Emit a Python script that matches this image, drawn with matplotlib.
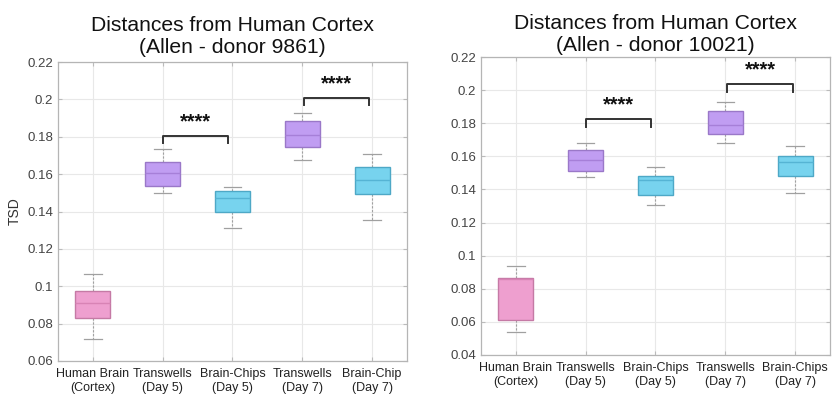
import matplotlib.pyplot as plt

plt.rcParams['font.family'] = ['Liberation Sans', 'DejaVu Sans']

# box stats: whisker low, q1, median, q3, whisker high
left_whislo = [0.072, 0.1497, 0.1314, 0.1676, 0.1355]
left_q1 = [0.0831, 0.1534, 0.1397, 0.1745, 0.1495]
left_med = [0.0910, 0.1604, 0.1471, 0.1808, 0.1570]
left_q3 = [0.0973, 0.1665, 0.1510, 0.1884, 0.1637]
left_whishi = [0.1067, 0.1734, 0.1531, 0.1925, 0.1708]

right_whislo = [0.0540, 0.1475, 0.1306, 0.1678, 0.1376]
right_q1 = [0.0612, 0.1510, 0.1368, 0.1732, 0.1482]
right_med = [0.0859, 0.1580, 0.1456, 0.1788, 0.1564]
right_q3 = [0.0865, 0.1636, 0.1480, 0.1872, 0.1600]
right_whishi = [0.0936, 0.1682, 0.1534, 0.1928, 0.1660]

left_labels = ['Human Brain\n(Cortex)', 'Transwells\n(Day 5)', 'Brain-Chips\n(Day 5)',
               'Transwells\n(Day 7)', 'Brain-Chip\n(Day 7)']
right_labels = ['Human Brain\n(Cortex)', 'Transwells\n(Day 5)', 'Brain-Chips\n(Day 5)',
                'Transwells\n(Day 7)', 'Brain-Chips\n(Day 7)']

left_titles = 'Distances from Human Cortex\n(Allen - donor 9861)'
right_titles = 'Distances from Human Cortex\n(Allen - donor 10021)'

# significance brackets: (x start, x end, top, end drop, star y)
left_brackets = [(2, 2.93, 0.1802, 0.1765, 0.1880), (4.02, 4.95, 0.2007, 0.1968, 0.2084)]
right_brackets = [(2, 2.93, 0.1826, 0.1778, 0.1912), (4.03, 4.97, 0.2038, 0.1990, 0.2122)]

fills = ['#ee9fcf', '#c09df2', '#77d3ee', '#c09df2', '#77d3ee']
edges = ['#c57aa5', '#9a78c8', '#4ea8c6', '#9a78c8', '#4ea8c6']
medcols = ['#d883b5', '#a67fd8', '#55b4d4', '#a67fd8', '#55b4d4']

fig = plt.figure(figsize=(8.34, 3.97), dpi=100)
ax1 = fig.add_axes([0.0695, 0.0907, 0.4185, 0.753])
ax2 = fig.add_axes([0.5767, 0.1058, 0.4185, 0.7506])


def draw_panel(ax, wlo, q1, med, q3, whi, labels, title, brackets, ylim, yticks, tpad):
    stats = []
    for i in range(len(med)):
        stats.append({'whislo': wlo[i], 'q1': q1[i], 'med': med[i], 'q3': q3[i],
                      'whishi': whi[i], 'fliers': []})
    bp = ax.bxp(stats, positions=range(1, 6), widths=0.5, patch_artist=True,
                showfliers=False,
                whiskerprops=dict(color='#a0a0a0', linewidth=0.8, linestyle=(0, (2, 1.5))),
                capprops=dict(color='#a0a0a0', linewidth=0.9),
                capwidths=0.25)
    for i, b in enumerate(bp['boxes']):
        b.set_facecolor(fills[i])
        b.set_edgecolor(edges[i])
        b.set_linewidth(1.0)
        b.set_zorder(3)
    for i, m in enumerate(bp['medians']):
        m.set_color(medcols[i])
        m.set_linewidth(1.0)
        m.set_zorder(4)

    for x0, x1, top, drop, sy in brackets:
        ax.plot([x0, x0, x1, x1], [drop, top, top, drop], color='#333333',
                linewidth=1.4, zorder=5)
        ax.text((x0 + x1) / 2, sy, '****', ha='center', va='center',
                fontsize=14.5, fontweight='bold', color='#111111')

    ax.set_xlim(0.5, 5.5)
    ax.set_ylim(*ylim)
    ax.set_yticks(yticks)
    ax.set_yticklabels([('%.2f' % t).rstrip('0').rstrip('.') if t != 0.2 and t != 0.1
                        else ('%.1f' % t) for t in yticks])
    ax.set_xticks(range(1, 6))
    ax.set_xticklabels(labels, fontsize=9, color='#222222', linespacing=1.25)
    ax.tick_params(axis='y', labelsize=9.5, labelcolor='#444444', direction='in',
                   length=3, color='#bbbbbb')
    ax.tick_params(axis='x', direction='in', length=3, color='#bbbbbb', pad=5)
    ax.tick_params(top=True, right=True)
    ax.grid(True, color='#e8e8e8', linewidth=0.8)
    ax.set_axisbelow(True)
    for s in ax.spines.values():
        s.set_color('#b5b5b5')
        s.set_linewidth(0.9)
    ax.set_title(title, fontsize=15.2, color='#111111', pad=tpad, linespacing=1.2)


draw_panel(ax1, left_whislo, left_q1, left_med, left_q3, left_whishi, left_labels,
           left_titles, left_brackets, (0.06, 0.22),
           [0.06, 0.08, 0.10, 0.12, 0.14, 0.16, 0.18, 0.20, 0.22], 6.5)
draw_panel(ax2, right_whislo, right_q1, right_med, right_q3, right_whishi, right_labels,
           right_titles, right_brackets, (0.04, 0.22),
           [0.04, 0.06, 0.08, 0.10, 0.12, 0.14, 0.16, 0.18, 0.20, 0.22], 4.5)

ax1.set_ylabel('TSD', fontsize=10, color='#333333', labelpad=4)

fig.savefig('out.png', dpi=100)
